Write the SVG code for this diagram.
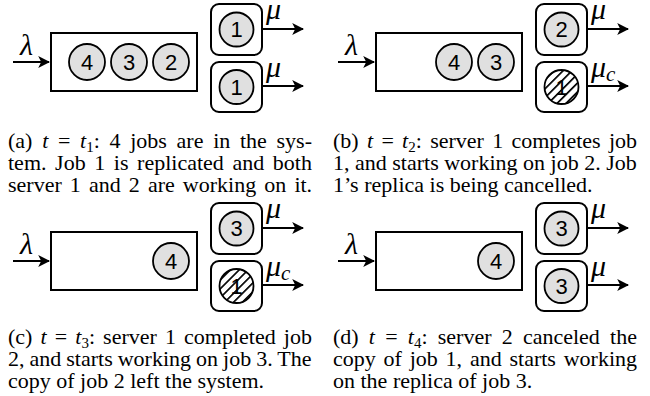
<svg xmlns="http://www.w3.org/2000/svg" width="650" height="396" viewBox="0 0 650 396">
<style>
.q{fill:#fff;stroke:#000;stroke-width:2}
.srv{fill:#fff;stroke:#000;stroke-width:2}
.job{fill:#e0e0e0;stroke:#000;stroke-width:1.8}
.hat{fill:url(#hatch);stroke:#000;stroke-width:1.8}
.num{font-family:"Liberation Sans",Arial,sans-serif;font-size:22px;text-anchor:middle;dominant-baseline:central}
.ar{stroke:#000;stroke-width:2;fill:none;marker-end:url(#ah)}
.math{font-family:"Liberation Serif","Times New Roman",serif;font-style:italic;font-size:30px}
.cap{font-family:"Liberation Serif","Times New Roman",serif;font-size:22px}
.it{font-style:italic}
</style>
<defs>
<marker id="ah" viewBox="0 0 10 10" refX="9" refY="5" markerWidth="6" markerHeight="6" orient="auto" markerUnits="strokeWidth">
<path d="M0,0 L10,5 L0,10 L2.5,5 Z" fill="#000"/>
</marker>
<pattern id="hatch" patternUnits="userSpaceOnUse" width="6.3" height="6.3" patternTransform="rotate(45)">
<line x1="0" y1="0" x2="0" y2="6.3" stroke="#000" stroke-width="3.4"/>
</pattern>
</defs>

<!-- Panel (a) -->
<g id="panel-a">
<g id="a-queue"><rect class="q" x="51" y="33" width="146" height="58"/>
<text class="math" x="20" y="55">λ</text></g>
<g id="a-job4"><circle class="job" cx="87" cy="62" r="18"/><text class="num" x="87" y="62">4</text></g>
<g id="a-job3"><circle class="job" cx="129" cy="62" r="18"/><text class="num" x="129" y="62">3</text></g>
<g id="a-job2"><circle class="job" cx="171" cy="62" r="18"/><text class="num" x="171" y="62">2</text></g>
<g id="a-server1"><rect class="srv" x="211" y="4" width="51" height="51" rx="8"/><circle class="job" cx="236.5" cy="29.5" r="17"/><text class="num" x="236.5" y="29.5">1</text>
<text class="math" x="266" y="19">μ</text></g>
<g id="a-server2"><rect class="srv" x="211" y="62" width="51" height="50" rx="8"/><circle class="job" cx="236.5" cy="87" r="17"/><text class="num" x="236.5" y="87">1</text>
<text class="math" x="266" y="77">μ</text></g>
<g id="a-connectors">
<line class="ar" x1="13" y1="62" x2="49" y2="62"/>
<line class="ar" x1="262" y1="29" x2="303" y2="29"/>
<line class="ar" x1="262" y1="86" x2="303" y2="86"/>
</g>
<g id="a-caption" class="cap">
<text x="8" y="148" word-spacing="4.2">(a) <tspan class="it">t</tspan> = <tspan class="it">t</tspan><tspan font-size="15" baseline-shift="-4">1</tspan>: 4 jobs are in the sys-</text>
<text x="8" y="170" word-spacing="3.1">tem. Job 1 is replicated and both</text>
<text x="8" y="192" word-spacing="2.6">server 1 and 2 are working on it.</text>
</g>
</g>

<!-- Panel (b) -->
<g id="panel-b">
<g id="b-queue"><rect class="q" x="376" y="33" width="146" height="58"/>
<text class="math" x="345" y="55">λ</text></g>
<g id="b-job4"><circle class="job" cx="454" cy="62" r="18"/><text class="num" x="454" y="62">4</text></g>
<g id="b-job3"><circle class="job" cx="496" cy="62" r="18"/><text class="num" x="496" y="62">3</text></g>
<g id="b-server1"><rect class="srv" x="536" y="4" width="51" height="51" rx="8"/><circle class="job" cx="561.5" cy="29.5" r="17"/><text class="num" x="561.5" y="29.5">2</text>
<text class="math" x="591" y="19">μ</text></g>
<g id="b-server2"><rect class="srv" x="536" y="62" width="51" height="50" rx="8"/><circle fill="#fff" cx="561.5" cy="87" r="17"/><text class="num" x="561.5" y="87">1</text><circle class="hat" cx="561.5" cy="87" r="17"/>
<text class="math" x="591" y="77">μ<tspan font-size="21" baseline-shift="-4">c</tspan></text></g>
<g id="b-connectors">
<line class="ar" x1="338" y1="62" x2="374" y2="62"/>
<line class="ar" x1="587" y1="29" x2="628" y2="29"/>
<line class="ar" x1="587" y1="86" x2="628" y2="86"/>
</g>
<g id="b-caption" class="cap">
<text x="333" y="148" word-spacing="2.8">(b) <tspan class="it">t</tspan> = <tspan class="it">t</tspan><tspan font-size="15" baseline-shift="-4">2</tspan>: server 1 completes job</text>
<text x="333" y="170">1, and starts working on job 2. Job</text>
<text x="333" y="192">1’s replica is being cancelled.</text>
</g>
</g>

<!-- Panel (c) -->
<g id="panel-c">
<g id="c-queue"><rect class="q" x="51" y="232" width="146" height="58"/>
<text class="math" x="20" y="254">λ</text></g>
<g id="c-job4"><circle class="job" cx="171" cy="261" r="18"/><text class="num" x="171" y="261">4</text></g>
<g id="c-server1"><rect class="srv" x="211" y="203" width="51" height="51" rx="8"/><circle class="job" cx="236.5" cy="228.5" r="17"/><text class="num" x="236.5" y="228.5">3</text>
<text class="math" x="266" y="218">μ</text></g>
<g id="c-server2"><rect class="srv" x="211" y="261" width="51" height="50" rx="8"/><circle fill="#fff" cx="236.5" cy="286" r="17"/><text class="num" x="236.5" y="286">1</text><circle class="hat" cx="236.5" cy="286" r="17"/>
<text class="math" x="266" y="276">μ<tspan font-size="21" baseline-shift="-4">c</tspan></text></g>
<g id="c-connectors">
<line class="ar" x1="13" y1="261" x2="49" y2="261"/>
<line class="ar" x1="262" y1="228" x2="303" y2="228"/>
<line class="ar" x1="262" y1="285" x2="303" y2="285"/>
</g>
<g id="c-caption" class="cap">
<text x="8" y="344" word-spacing="2.6">(c) <tspan class="it">t</tspan> = <tspan class="it">t</tspan><tspan font-size="15" baseline-shift="-4">3</tspan>: server 1 completed job</text>
<text x="8" y="366" word-spacing="-0.5">2, and starts working on job 3. The</text>
<text x="8" y="388">copy of job 2 left the system.</text>
</g>
</g>

<!-- Panel (d) -->
<g id="panel-d">
<g id="d-queue"><rect class="q" x="376" y="232" width="146" height="58"/>
<text class="math" x="345" y="254">λ</text></g>
<g id="d-job4"><circle class="job" cx="496" cy="261" r="18"/><text class="num" x="496" y="261">4</text></g>
<g id="d-server1"><rect class="srv" x="536" y="203" width="51" height="51" rx="8"/><circle class="job" cx="561.5" cy="228.5" r="17"/><text class="num" x="561.5" y="228.5">3</text>
<text class="math" x="591" y="218">μ</text></g>
<g id="d-server2"><rect class="srv" x="536" y="261" width="51" height="50" rx="8"/><circle class="job" cx="561.5" cy="286" r="17"/><text class="num" x="561.5" y="286">3</text>
<text class="math" x="591" y="276">μ</text></g>
<g id="d-connectors">
<line class="ar" x1="338" y1="261" x2="374" y2="261"/>
<line class="ar" x1="587" y1="228" x2="628" y2="228"/>
<line class="ar" x1="587" y1="285" x2="628" y2="285"/>
</g>
<g id="d-caption" class="cap">
<text x="333" y="344" word-spacing="4.7">(d) <tspan class="it">t</tspan> = <tspan class="it">t</tspan><tspan font-size="15" baseline-shift="-4">4</tspan>: server 2 canceled the</text>
<text x="333" y="366" word-spacing="2.3">copy of job 1, and starts working</text>
<text x="333" y="388">on the replica of job 3.</text>
</g>
</g>
</svg>
